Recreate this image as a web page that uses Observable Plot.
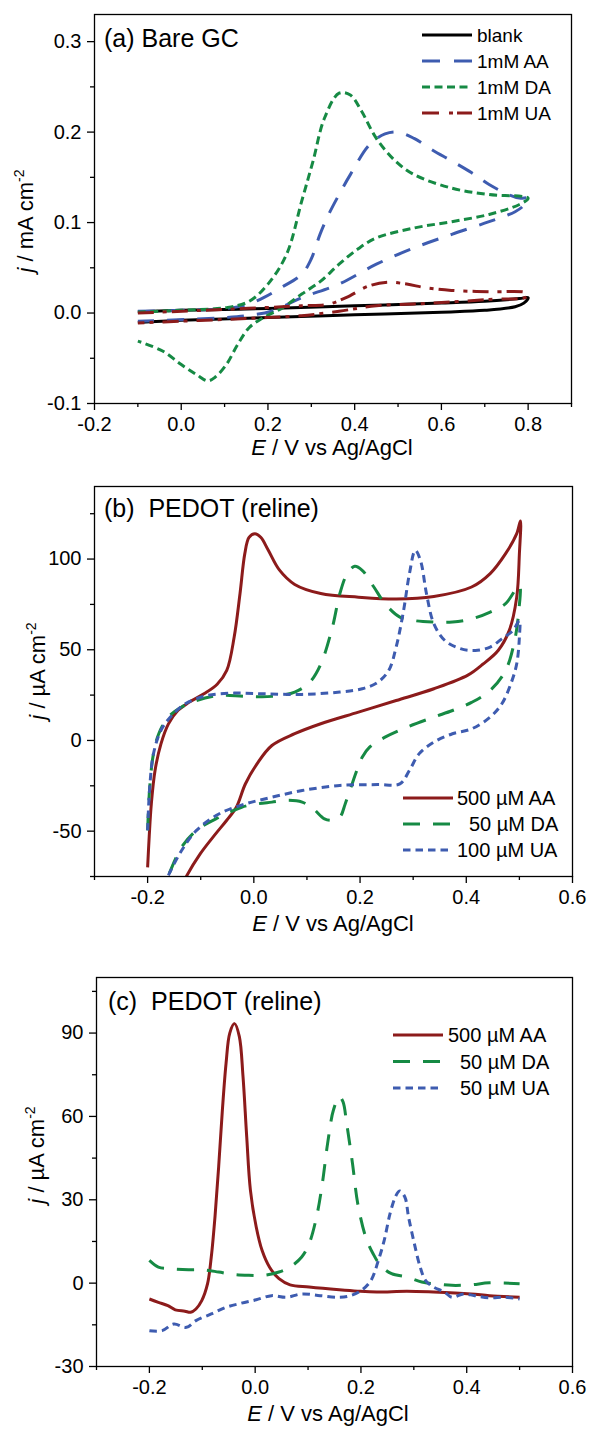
<!DOCTYPE html>
<html><head><meta charset="utf-8">
<script src="https://cdn.jsdelivr.net/npm/d3@7"></script>
<script src="https://cdn.jsdelivr.net/npm/@observablehq/plot@0.6"></script>
<style>
body{margin:0;background:#fff;font-family:"Liberation Sans",Arial,sans-serif;}
#root{width:590px;}
svg{display:block;}
</style></head><body><div id="root"></div>
<script>
// ---------- Panel (a): Bare GC, j in mA cm^-2 ----------
const aBlank = [[-0.1,0.0015],[0.0,0.003],[0.2,0.005],[0.4,0.008],[0.6,0.011],[0.7,0.013],[0.78,0.016],[0.8,0.017],
  [0.79,0.011],[0.77,0.007],[0.7,0.003],[0.6,0.001],[0.4,-0.002],[0.2,-0.005],[0.0,-0.008],[-0.1,-0.0105]];
const aAA = [[-0.1,0.002],[0.0,0.003],[0.1,0.005],[0.15,0.009],[0.19,0.017],[0.23,0.028],[0.278,0.043],[0.3,0.06],[0.32,0.087],[0.34,0.109],[0.364,0.131],[0.39,0.153],[0.434,0.186],[0.47,0.198],[0.5,0.2],[0.537,0.193],[0.58,0.18],[0.624,0.168],[0.67,0.155],[0.71,0.142],[0.75,0.132],[0.78,0.127],[0.8,0.127],
  [0.79,0.119],[0.77,0.112],[0.71,0.101],[0.624,0.087],[0.537,0.072],[0.45,0.054],[0.364,0.032],[0.278,0.017],[0.208,0.002],[0.148,-0.003],[0.1,-0.005],[0.017,-0.007],[-0.1,-0.009]];
const aDA = [[-0.1,0.001],[0.0,0.003],[0.104,0.006],[0.157,0.013],[0.2,0.032],[0.243,0.065],[0.278,0.124],[0.304,0.168],[0.33,0.215],[0.364,0.243],[0.39,0.241],[0.416,0.223],[0.45,0.193],[0.494,0.168],[0.537,0.153],[0.624,0.138],[0.71,0.131],[0.8,0.127],
  [0.78,0.12],[0.71,0.109],[0.624,0.101],[0.537,0.094],[0.45,0.083],[0.408,0.071],[0.364,0.054],[0.321,0.035],[0.278,0.021],[0.234,0.006],[0.19,-0.005],[0.157,-0.016],[0.13,-0.035],[0.104,-0.057],[0.078,-0.071],[0.061,-0.075],[0.035,-0.068],[0.0,-0.057],[-0.043,-0.042],[-0.1,-0.031]];
const aUA = [[-0.1,0.0],[0.1,0.004],[0.277,0.008],[0.338,0.0096],[0.38,0.017],[0.433,0.03],[0.476,0.034],[0.52,0.032],[0.563,0.028],[0.623,0.025],[0.71,0.0235],[0.797,0.022],
  [0.797,0.018],[0.71,0.015],[0.58,0.011],[0.45,0.008],[0.364,0.002],[0.277,-0.003],[0.19,-0.005],[0.104,-0.007],[0.0,-0.009],[-0.1,-0.011]];
const aLegend = ["blank","1mM AA","1mM DA","1mM UA"];
const aXTicks = [-0.2,0,0.2,0.4,0.6,0.8];
const aXMinor = [-0.1,0.1,0.3,0.5,0.7,0.9];
const aYTicks = [-0.1,0,0.1,0.2,0.3];
const aYMinor = [-0.05,0.05,0.15,0.25];

// ---------- Panel (b): PEDOT (reline) CV, j in uA cm^-2 ----------
const bAA = [[-0.2,-70],[-0.197,-53],[-0.193,-35],[-0.186,-16.5],[-0.175,-2],[-0.161,9],[-0.143,16.5],[-0.122,21],[-0.094,25.7],[-0.069,31],[-0.051,38.6],[-0.037,57],[-0.026,81],[-0.017,103],[-0.009,112],[0.002,114],[0.013,112],[0.027,105],[0.048,94],[0.077,86],[0.126,81],[0.197,79],[0.268,78],[0.339,79.4],[0.41,84.6],[0.445,92],[0.474,103],[0.495,114],[0.502,121],
  [0.5,103],[0.495,79],[0.481,60.7],[0.46,49.6],[0.431,42],[0.403,36],[0.339,28.5],[0.268,22],[0.197,15.6],[0.126,9.2],[0.077,3.7],[0.034,-2.8],[0.006,-12.9],[-0.016,-24],[-0.033,-36.8],[-0.051,-44],[-0.072,-51.5],[-0.101,-62.5],[-0.126,-74.4],[-0.135,-80]];
const bDA = [[-0.2,-49.6],[-0.196,-25.7],[-0.189,-7.4],[-0.179,3.7],[-0.161,12.9],[-0.136,18.4],[-0.108,22],[-0.065,24.8],[-0.016,24.3],[0.034,24.3],[0.077,26.7],[0.105,32],[0.126,42],[0.148,62.5],[0.162,81],[0.176,92],[0.19,96],[0.204,93.8],[0.226,84.6],[0.247,75.4],[0.275,68],[0.304,66],[0.339,65.3],[0.374,65.3],[0.41,67],[0.445,70.8],[0.474,75.4],[0.5,85.5],
  [0.499,71.7],[0.491,55],[0.474,38.6],[0.445,27.6],[0.41,21],[0.374,16.5],[0.339,12.9],[0.289,7.4],[0.247,1.8],[0.218,-3.7],[0.204,-9.2],[0.194,-16.5],[0.183,-25.7],[0.172,-35],[0.162,-42.3],[0.148,-44],[0.133,-43.2],[0.112,-37.7],[0.091,-34],[0.062,-33],[0.034,-34],[0.006,-35],[-0.023,-36.8],[-0.065,-42.3],[-0.108,-49.6],[-0.136,-58.8],[-0.161,-74.4],[-0.17,-80]];
const bUA = [[-0.2,-49.6],[-0.196,-25.7],[-0.189,-7.4],[-0.175,5.5],[-0.157,12.9],[-0.129,20.2],[-0.087,24.8],[-0.037,26.1],[0.02,25.7],[0.091,25.4],[0.162,26.7],[0.204,28.5],[0.233,32],[0.254,38.6],[0.268,51.5],[0.282,71.7],[0.293,92],[0.304,104.8],[0.314,99],[0.325,81],[0.339,64.3],[0.36,55],[0.389,50.6],[0.417,49.6],[0.445,51.5],[0.467,56],[0.488,60.7],[0.5,66],
  [0.5,57],[0.495,42.3],[0.484,31.3],[0.467,20.2],[0.445,12.9],[0.41,6.4],[0.374,3.7],[0.339,-0.9],[0.311,-7.4],[0.293,-16.5],[0.275,-23.9],[0.233,-24.3],[0.162,-24.8],[0.091,-27.6],[0.034,-31.3],[-0.016,-35],[-0.065,-40.4],[-0.108,-49.6],[-0.136,-60.7],[-0.161,-74.4],[-0.17,-80]];
const bLegend = ["500 \u00b5M AA","50 \u00b5M DA","100 \u00b5M UA"];
const bXTicks = [-0.2,0,0.2,0.4,0.6];
const bXMinor = [-0.3,-0.1,0.1,0.3,0.5];
const bYTicks = [-50,0,50,100];
const bYMinor = [-75,-25,25,75,125];

// ---------- Panel (c): PEDOT (reline) DPV, j in uA cm^-2 ----------
const cAA = [[-0.2,-5.7],[-0.183,-6.9],[-0.165,-8.1],[-0.151,-9.6],[-0.133,-10.1],[-0.122,-10.5],[-0.112,-9.3],[-0.101,-6.3],[-0.09,-0.2],[-0.083,9.4],[-0.076,23.8],[-0.069,41.9],[-0.062,62.3],[-0.055,79.2],[-0.048,90],[-0.039,93.4],[-0.03,88.8],[-0.023,74.4],[-0.016,52.7],[-0.009,33.5],[0.002,20.2],[0.013,11.8],[0.027,5.8],[0.045,1.6],[0.066,-0.6],[0.102,-1.4],[0.159,-2.4],[0.194,-2.9],[0.23,-3.2],[0.287,-2.9],[0.337,-3.2],[0.408,-3.9],[0.443,-4.5],[0.5,-5.1]];
const cDA = [[-0.2,8.2],[-0.183,5.8],[-0.162,5.2],[-0.126,4.8],[-0.098,4.8],[-0.069,4.0],[-0.041,3.1],[-0.012,2.8],[0.016,2.8],[0.045,4.0],[0.066,5.8],[0.088,9.4],[0.102,14.2],[0.116,23.8],[0.127,35.9],[0.137,50.3],[0.148,62.3],[0.159,67.1],[0.166,65.3],[0.173,57.5],[0.184,43.1],[0.194,28.6],[0.209,16.6],[0.223,10.6],[0.237,6.4],[0.258,3.4],[0.287,2.2],[0.315,0.4],[0.337,-0.2],[0.372,-0.8],[0.408,-0.6],[0.443,0.1],[0.5,-0.2]];
const cUA = [[-0.2,-17.1],[-0.176,-17.1],[-0.154,-14.7],[-0.13,-15.9],[-0.112,-13.5],[-0.083,-11.1],[-0.055,-8.7],[-0.026,-7.2],[0.002,-6.0],[0.031,-4.5],[0.059,-5.1],[0.088,-3.9],[0.123,-4.5],[0.159,-5.1],[0.18,-4.5],[0.201,-2.6],[0.219,1.0],[0.233,8.2],[0.244,15.4],[0.255,25.0],[0.265,31.0],[0.273,33.2],[0.283,31.0],[0.29,23.8],[0.301,14.2],[0.312,5.8],[0.322,1.0],[0.337,-1.4],[0.358,-3.2],[0.372,-5.1],[0.394,-3.9],[0.415,-4.5],[0.443,-5.3],[0.472,-5.1],[0.5,-5.7]];
const cLegend = ["500 \u00b5M AA","50 \u00b5M DA","50 \u00b5M UA"];
const cXTicks = [-0.2,0,0.2,0.4,0.6];
const cXMinor = [-0.3,-0.1,0.1,0.3,0.5];
const cYTicks = [-30,0,30,60,90];
const cYMinor = [-15,15,45,75,105];

// ---------- styling ----------
const FONT = '"Liberation Sans", Arial, Helvetica, sans-serif';
const BLACK = "#000000", RED = "#8c1b1b", GREEN = "#168a44", BLUE = "#3e5cb0";

function makePanel(cfg) {
  const lineMarks = cfg.series.map(s => Plot.line(s.data, {
    x: d => d[0], y: d => d[1], stroke: s.color, strokeWidth: 3,
    strokeDasharray: s.dash, strokeLinecap: "butt", strokeLinejoin: "round",
    curve: "catmull-rom", clip: true
  }));
  const svg = Plot.plot({
    width: 590, height: cfg.height,
    marginTop: cfg.mt, marginBottom: cfg.mb, marginLeft: cfg.ml, marginRight: cfg.mr,
    x: {domain: cfg.xDomain}, y: {domain: cfg.yDomain},
    style: {fontFamily: FONT, background: "white", color: "black", overflow: "visible"},
    marks: [
      ...lineMarks,
      Plot.axisX({ticks: cfg.xMinor, tickSize: 4, tickFormat: () => "", strokeWidth: 1.3, label: null}),
      Plot.axisX({ticks: cfg.xMajor, tickSize: 7, tickPadding: 6, tickFormat: cfg.fx, fontSize: 20, strokeWidth: 1.3, label: null}),
      Plot.axisY({ticks: cfg.yMinor, tickSize: 4, tickFormat: () => "", strokeWidth: 1.3, label: null}),
      Plot.axisY({ticks: cfg.yMajor, tickSize: 7, tickPadding: 6, tickFormat: cfg.fy, fontSize: 20, strokeWidth: 1.3, label: null}),
      Plot.frame({stroke: "black", strokeWidth: 1.3})
    ]
  });
  const g = d3.select(svg).append("g").attr("font-family", FONT).attr("fill", "black")
    .attr("text-anchor", "start");
  // panel label
  g.append("text").attr("x", cfg.label.x).attr("y", cfg.label.y).attr("font-size", 25)
    .attr("text-anchor", "start").style("white-space", "pre").text(cfg.label.text);
  // x title
  const xt = g.append("text").attr("x", cfg.xTitle.x).attr("y", cfg.xTitle.y)
    .attr("text-anchor", "middle").attr("font-size", 22);
  xt.append("tspan").attr("font-style", "italic").text("E");
  xt.append("tspan").style("white-space", "pre").text(" / V vs Ag/AgCl");
  // y title
  const yt = g.append("text").attr("transform", `translate(${cfg.yTitle.x},${cfg.yTitle.y}) rotate(-90)`)
    .attr("text-anchor", "middle").attr("font-size", 22);
  yt.append("tspan").attr("font-style", "italic").text("j");
  yt.append("tspan").style("white-space", "pre").text(cfg.yTitle.unit);
  yt.append("tspan").attr("font-size", 14).attr("dy", -9).text("-2");
  // legend
  cfg.legend.rows.forEach((row, i) => {
    const s = cfg.series[i];
    const y = cfg.legend.y0 + i * cfg.legend.dy;
    g.append("line").attr("x1", cfg.legend.x1).attr("x2", cfg.legend.x2).attr("y1", y).attr("y2", y)
      .attr("stroke", s.color).attr("stroke-width", 3).attr("stroke-dasharray", s.legendDash || s.dash || null);
    g.append("text").attr("x", cfg.legend.tx[i]).attr("y", y + 7).attr("font-size", cfg.legend.fs)
      .attr("text-anchor", "start").text(row);
  });
  return svg;
}

const root = document.getElementById("root");
const f1 = d => d.toFixed(1);
const f0 = d => String(d);

root.appendChild(makePanel({
  height: 470, mt: 14, mb: 67, ml: 94, mr: 19,
  xDomain: [-0.2, 0.9], yDomain: [-0.1, 0.33],
  xMajor: aXTicks, xMinor: aXMinor, yMajor: aYTicks, yMinor: aYMinor, fx: f1, fy: f1,
  series: [
    {data: aBlank, color: BLACK, dash: null},
    {data: aAA, color: BLUE, dash: "17,13", legendDash: "18,14"},
    {data: aDA, color: GREEN, dash: "8,4.5"},
    {data: aUA, color: RED, dash: "16,9,4,5", legendDash: "17,10,4,4"}
  ],
  label: {x: 104, y: 47, text: "(a) Bare GC"},
  xTitle: {x: 332, y: 455}, yTitle: {x: 33, y: 221, unit: " / mA cm"},
  legend: {rows: aLegend, x1: 422, x2: 472, y0: 35, dy: 26, tx: [477, 477, 477, 477], fs: 19}
}));

root.appendChild(makePanel({
  height: 480, mt: 16, mb: 74, ml: 94, mr: 18,
  xDomain: [-0.3, 0.6], yDomain: [-75, 140],
  xMajor: bXTicks, xMinor: bXMinor, yMajor: bYTicks, yMinor: bYMinor, fx: f1, fy: f0,
  series: [
    {data: bAA, color: RED, dash: null},
    {data: bDA, color: GREEN, dash: "17,13"},
    {data: bUA, color: BLUE, dash: "7.5,5"}
  ],
  label: {x: 104, y: 47, text: "(b)  PEDOT (reline)"},
  xTitle: {x: 333, y: 461}, yTitle: {x: 45, y: 201, unit: " / \u00b5A cm"},
  legend: {rows: bLegend, x1: 403, x2: 453, y0: 328, dy: 26, tx: [457, 469, 457], fs: 20}
}));

root.appendChild(makePanel({
  height: 480, mt: 27, mb: 64, ml: 96, mr: 18,
  xDomain: [-0.3, 0.6], yDomain: [-30, 110],
  xMajor: cXTicks, xMinor: cXMinor, yMajor: cYTicks, yMinor: cYMinor, fx: f1, fy: f0,
  series: [
    {data: cAA, color: RED, dash: null},
    {data: cDA, color: GREEN, dash: "17,13"},
    {data: cUA, color: BLUE, dash: "7.5,5"}
  ],
  label: {x: 108, y: 60, text: "(c)  PEDOT (reline)"},
  xTitle: {x: 328, y: 471}, yTitle: {x: 44, y: 205, unit: " / \u00b5A cm"},
  legend: {rows: cLegend, x1: 393, x2: 443, y0: 85, dy: 26.5, tx: [448, 460, 460], fs: 20}
}));
</script></body></html>
